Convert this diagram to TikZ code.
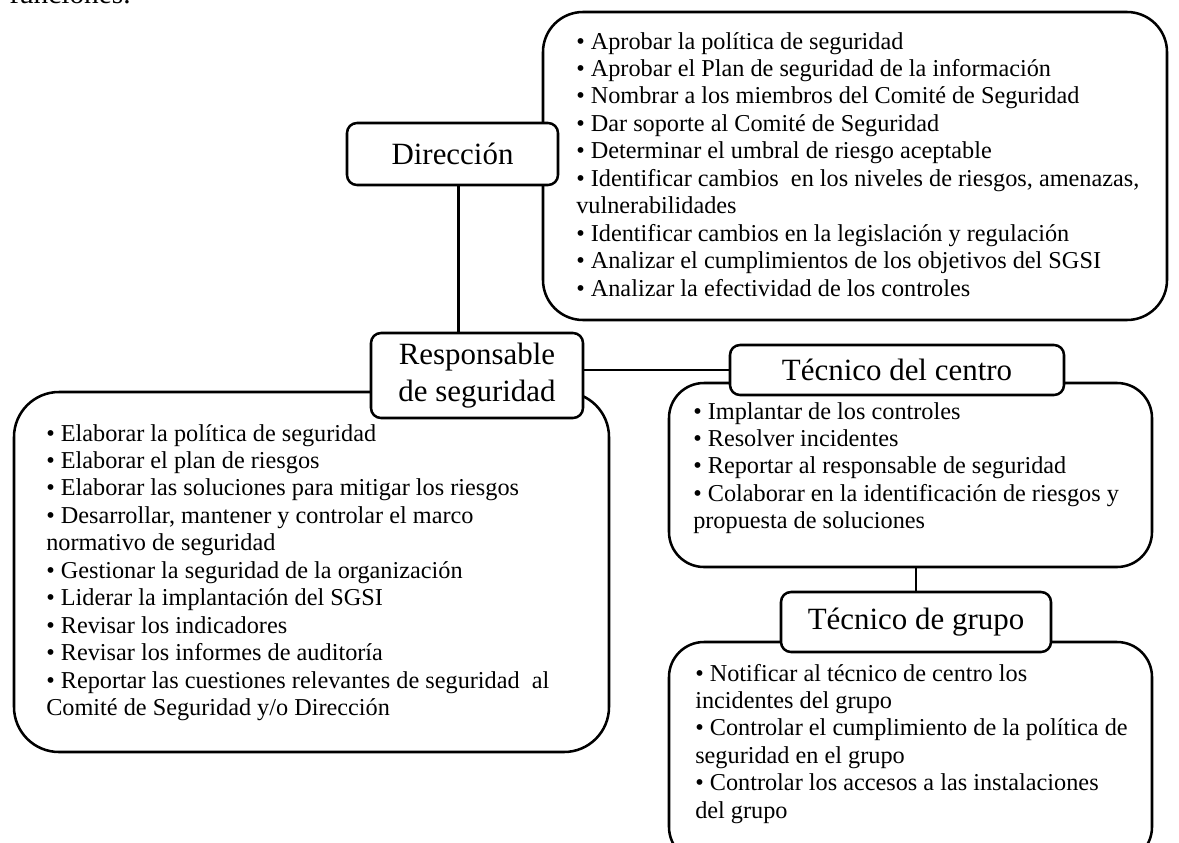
\documentclass[tikz,border=0pt]{standalone}
\usepackage{fontspec}
\setmainfont{Liberation Serif}
\newdimen\pxu \pxu=0.75pt
\newenvironment{blist}{\begin{tabular}[t]{@{}l@{}}}{\end{tabular}}
\begin{document}
\begin{tikzpicture}[x=0.75pt,y=-0.75pt,
  funcbox/.style={draw, line width=1.9pt, inner sep=0pt},
  headbox/.style={draw, fill=white, line width=1.9pt, rounded corners=10\pxu, inner sep=0pt,
    font=\fontsize{23.2}{27.8}\selectfont, align=center},
  bodytxt/.style={inner sep=0pt, anchor=base west, font=\fontsize{18.2}{20.6}\selectfont},
  link/.style={line width=1.9pt}]
\useasboundingbox (0,0) rectangle (1179,843);
\clip (0,0) rectangle (1179,843);

% text cut at the top edge
\node[inner sep=0pt, anchor=base west, font=\fontsize{22}{26}\selectfont] (fn) at (9,3) {funciones.};

% function boxes
\node[funcbox, rounded corners=40\pxu, minimum width=624\pxu, minimum height=308\pxu] (dfun) at (855,166) {};
\node[funcbox, rounded corners=45\pxu, minimum width=595\pxu, minimum height=360\pxu] (rfun) at (311.5,572) {};
\node[funcbox, rounded corners=35\pxu, minimum width=483\pxu, minimum height=184\pxu] (cfun) at (910.5,475) {};
\node[funcbox, rounded corners=35\pxu, minimum width=483\pxu, minimum height=220\pxu] (gfun) at (910.5,752) {};

% heading boxes
\node[headbox, minimum width=211\pxu, minimum height=62\pxu] (dir) at (452.5,154) {Dirección};
\node[headbox, minimum width=212\pxu, minimum height=85\pxu] (resp) at (477,375.5) {Responsable\\de seguridad};
\node[headbox, minimum width=334\pxu, minimum height=50\pxu] (cen) at (897,370) {Técnico del centro};
\node[headbox, minimum width=270\pxu, minimum height=60\pxu] (gru) at (916,622) {Técnico de grupo};

% connectors
\draw[link] ([xshift=6\pxu]dir.south) -- ([xshift=6\pxu]dir.south |- resp.north);
\draw[link] (resp.east |- cen.west) -- (cen.west);
\draw[link] (cfun.south -| gru.north) -- (gru.north);

% texts
\node[bodytxt] (dtxt) at (576,49) {\begin{blist}
\textbullet\ Aprobar la política de seguridad\\
\textbullet\ Aprobar el Plan de seguridad de la información\\
\textbullet\ Nombrar a los miembros del Comité de Seguridad\\
\textbullet\ Dar soporte al Comité de Seguridad\\
\textbullet\ Determinar el umbral de riesgo aceptable\\
\textbullet\ Identificar cambios\ \ en los niveles de riesgos, amenazas,\\
vulnerabilidades\\
\textbullet\ Identificar cambios en la legislación y regulación\\
\textbullet\ Analizar el cumplimientos de los objetivos del SGSI\\
\textbullet\ Analizar la efectividad de los controles
\end{blist}};

\node[bodytxt] (rtxt) at (46,441) {\begin{blist}
\textbullet\ Elaborar la política de seguridad\\
\textbullet\ Elaborar el plan de riesgos\\
\textbullet\ Elaborar las soluciones para mitigar los riesgos\\
\textbullet\ Desarrollar, mantener y controlar el marco\\
normativo de seguridad\\
\textbullet\ Gestionar la seguridad de la organización\\
\textbullet\ Liderar la implantación del SGSI\\
\textbullet\ Revisar los indicadores\\
\textbullet\ Revisar los informes de auditoría\\
\textbullet\ Reportar las cuestiones relevantes de seguridad\ \ al\\
Comité de Seguridad y/o Dirección
\end{blist}};

\node[bodytxt] (ctxt) at (693,419) {\begin{blist}
\textbullet\ Implantar de los controles\\
\textbullet\ Resolver incidentes\\
\textbullet\ Reportar al responsable de seguridad\\
\textbullet\ Colaborar en la identificación de riesgos y\\
propuesta de soluciones
\end{blist}};

\node[bodytxt] (gtxt) at (695,681) {\begin{blist}
\textbullet\ Notificar al técnico de centro los\\
incidentes del grupo\\
\textbullet\ Controlar el cumplimiento de la política de\\
seguridad en el grupo\\
\textbullet\ Controlar los accesos a las instalaciones\\
del grupo
\end{blist}};
\end{tikzpicture}
\end{document}
